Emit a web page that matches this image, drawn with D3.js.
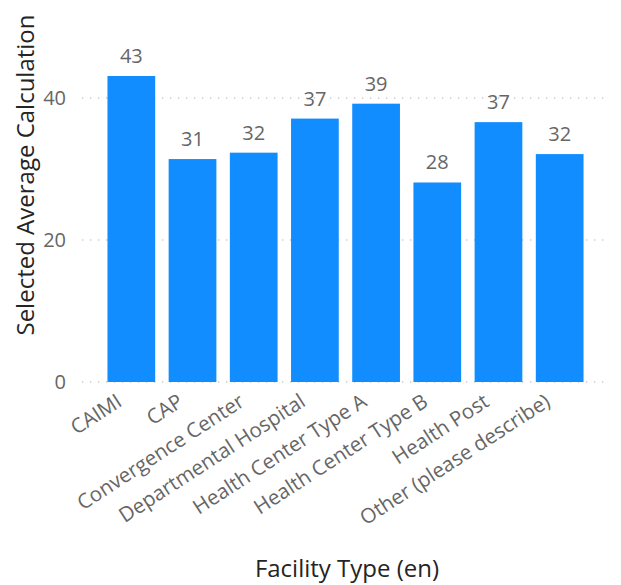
<!DOCTYPE html>
<html>
<head>
<meta charset="utf-8">
<script src="https://cdn.jsdelivr.net/npm/d3@7"></script>
<style>
    body { margin: 0; background: #fff; }
    svg { display: block; font-family: "Open Sans", "Noto Sans", sans-serif; }
</style>
</head>
<body>
<svg id="chart" width="621" height="585"></svg>
<script>
// Values
const facilityTypes = ["CAIMI", "CAP", "Convergence Center", "Departmental Hospital",
    "Health Center Type A", "Health Center Type B", "Health Post", "Other (please describe)"];
const avgValues = [43.1, 31.4, 32.3, 37.1, 39.2, 28.1, 36.6, 32.1];
const yTicks = [0, 20, 40];

var svg = d3.select("#chart");
var margin = { top: 98, left: 82, right: 15, bottom: 382 };
var width = 621, height = 585;

var xScale = d3.scaleBand()
    .domain(facilityTypes)
    .range([94, 597])
    .paddingInner(0.22)
    .paddingOuter(0.22);

var yScale = d3.scaleLinear()
    .domain([0, 40])
    .range([margin.bottom, margin.top]);

// Dotted gridlines
svg.append("g")
    .selectAll("line")
    .data(yTicks)
    .join("line")
    .attr("x1", margin.left)
    .attr("x2", width - margin.right)
    .attr("y1", d => yScale(d))
    .attr("y2", d => yScale(d))
    .attr("stroke", "#c8c8c8")
    .attr("stroke-width", 1.3)
    .attr("stroke-dasharray", "1.3,6.7");

// Y axis tick labels
var yAxis = svg.append("g")
    .attr("transform", `translate(${margin.left - 16}, 0)`)
    .call(d3.axisLeft(yScale).tickValues(yTicks).tickSize(0).tickPadding(0));
yAxis.select(".domain").remove();
yAxis.selectAll("text")
    .attr("fill", "#666")
    .style("font-size", "20px")
    .style("font-family", "Open Sans, sans-serif");

// Bars
svg.append("g")
    .selectAll("rect")
    .data(avgValues)
    .join("rect")
    .attr("x", (d, i) => xScale(facilityTypes[i]))
    .attr("y", d => yScale(d))
    .attr("width", xScale.bandwidth())
    .attr("height", d => yScale(0) - yScale(d))
    .attr("fill", "#118DFF");

// Data labels
svg.append("g")
    .selectAll("text")
    .data(avgValues)
    .join("text")
    .attr("x", (d, i) => xScale(facilityTypes[i]) + xScale.bandwidth() / 2)
    .attr("y", d => yScale(d) - 13)
    .attr("text-anchor", "middle")
    .attr("fill", "#666")
    .style("font-size", "20px")
    .text(d => Math.round(d));

// X axis category labels (rotated)
svg.append("g")
    .selectAll("text")
    .data(facilityTypes)
    .join("text")
    .attr("transform", d => `translate(${xScale(d) + xScale.bandwidth() / 2 - 8}, ${margin.bottom + 23}) rotate(-33)`)
    .attr("text-anchor", "end")
    .attr("fill", "#666")
    .style("font-size", "20.5px")
    .text(d => d);

// Axis titles
svg.append("text")
    .attr("x", 347)
    .attr("y", 577)
    .attr("text-anchor", "middle")
    .attr("fill", "#252423")
    .style("font-size", "24px")
    .text("Facility Type (en)");

svg.append("text")
    .attr("transform", "rotate(-90)")
    .attr("x", -175)
    .attr("y", 34)
    .attr("text-anchor", "middle")
    .attr("fill", "#252423")
    .style("font-size", "24px")
    .text("Selected Average Calculation");
</script>
</body>
</html>
